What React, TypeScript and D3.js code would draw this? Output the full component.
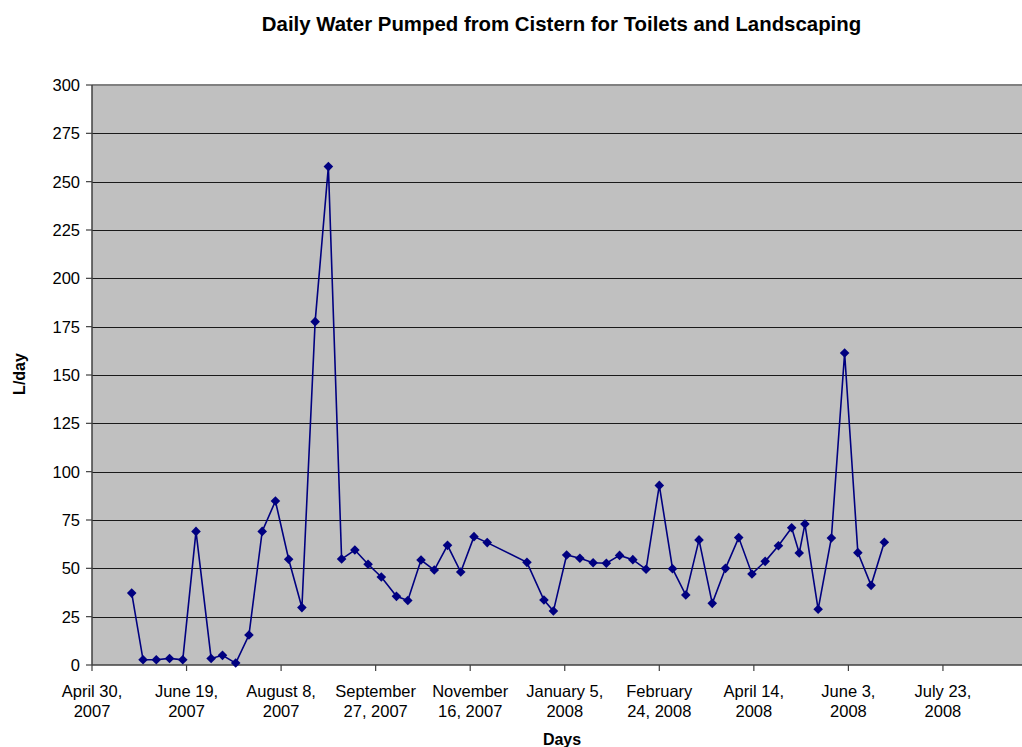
import React from "react";
import * as d3 from "d3";

const dates: string[] = [
  "2007-05-21", "2007-05-27", "2007-06-03", "2007-06-10", "2007-06-17", "2007-06-24",
  "2007-07-02", "2007-07-08", "2007-07-15", "2007-07-22", "2007-07-29", "2007-08-05",
  "2007-08-12", "2007-08-19", "2007-08-26", "2007-09-02", "2007-09-09", "2007-09-16",
  "2007-09-23", "2007-09-30", "2007-10-08", "2007-10-14", "2007-10-21", "2007-10-28",
  "2007-11-04", "2007-11-11", "2007-11-18", "2007-11-25", "2007-12-16", "2007-12-25",
  "2007-12-30", "2008-01-06", "2008-01-13", "2008-01-20", "2008-01-27", "2008-02-03",
  "2008-02-10", "2008-02-17", "2008-02-24", "2008-03-02", "2008-03-09", "2008-03-16",
  "2008-03-23", "2008-03-30", "2008-04-06", "2008-04-13", "2008-04-20", "2008-04-27",
  "2008-05-04", "2008-05-08", "2008-05-11", "2008-05-18", "2008-05-25", "2008-06-01",
  "2008-06-08", "2008-06-15", "2008-06-22",
];

const litresPerDay: number[] = [
  37.2, 2.7, 2.7, 3.4, 2.7, 69.1,
  3.4, 5.0, 1.0, 15.5, 69.1, 84.8,
  54.7, 29.7, 177.6, 257.8, 54.8, 59.5,
  52.1, 45.5, 35.5, 33.4, 54.3, 49.1,
  61.9, 48.1, 66.4, 63.3, 53.1, 33.6,
  27.9, 56.9, 55.2, 52.9, 52.6, 56.7,
  54.5, 49.5, 92.9, 49.8, 36.2, 64.7,
  31.9, 50.0, 65.9, 47.1, 53.6, 61.7,
  71.0, 57.9, 72.9, 28.8, 65.7, 161.4,
  58.1, 41.2, 63.5,
];

const xTickDates: string[] = [
  "2007-04-30", "2007-06-19", "2007-08-08", "2007-09-27", "2007-11-16",
  "2008-01-05", "2008-02-24", "2008-04-14", "2008-06-03", "2008-07-23",
];
const xTickLabels: string[][] = [
  ["April 30,", "2007"], ["June 19,", "2007"], ["August 8,", "2007"],
  ["September", "27, 2007"], ["November", "16, 2007"], ["January 5,", "2008"],
  ["February", "24, 2008"], ["April 14,", "2008"], ["June 3,", "2008"],
  ["July 23,", "2008"],
];
const yTicks: number[] = [0, 25, 50, 75, 100, 125, 150, 175, 200, 225, 250, 275, 300];

const xDomain: string[] = ["2007-04-30", "2008-09-11"];

const FONT = "'Liberation Sans', Arial, sans-serif";

export default function App() {
  const W = 1022, H = 747;
  const left = 92, top = 85, bottom = 665;
  const pxPerDay = 1.891;
  const parse = (s: string) => new Date(s + "T00:00:00Z");
  const d0 = parse(xDomain[0]);
  const d1 = parse(xDomain[1]);
  const days = (d1.getTime() - d0.getTime()) / 86400000;
  const x = d3.scaleUtc().domain([d0, d1]).range([left, left + days * pxPerDay]);
  const y = d3.scaleLinear().domain([0, 300]).range([bottom, top]);
  const right = W + 5;

  const pts = dates.map((d, i) => ({ x: x(parse(d)), y: y(litresPerDay[i]) }));
  const line = d3.line<{ x: number; y: number }>().x((p) => p.x).y((p) => p.y);
  const r = 4.8;

  return (
    <svg width={W} height={H} style={{ position: "absolute", left: 0, top: 0, background: "#fff" }} fontFamily={FONT}>
      <rect x={left} y={top} width={right - left} height={bottom - top} fill="#C0C0C0" />
      {yTicks.filter((t) => t > 0 && t < 300).map((t) => (
        <line key={t} x1={left} x2={right} y1={Math.round(y(t)) + 0.5} y2={Math.round(y(t)) + 0.5} stroke="#1a1a1a" strokeWidth={1} />
      ))}
      <line x1={left} x2={right} y1={top} y2={top} stroke="#808080" strokeWidth={2} />
      <line x1={left} x2={right} y1={bottom} y2={bottom} stroke="#404040" strokeWidth={1.5} />
      <line x1={left} x2={left} y1={top} y2={bottom} stroke="#404040" strokeWidth={1.5} />
      {yTicks.map((t) => (
        <g key={t}>
          <line x1={left - 6} x2={left} y1={y(t)} y2={y(t)} stroke="#404040" strokeWidth={1.2} />
          <text x={80} y={y(t) + 6} textAnchor="end" fontSize={16.5} fill="#000">{t}</text>
        </g>
      ))}
      {xTickDates.map((d, i) => {
        const xx = x(parse(d));
        return (
          <g key={d}>
            <line x1={xx} x2={xx} y1={bottom} y2={bottom + 6} stroke="#404040" strokeWidth={1.2} />
            <text x={xx} y={697} textAnchor="middle" fontSize={16.5} fill="#000">{xTickLabels[i][0]}</text>
            <text x={xx} y={717} textAnchor="middle" fontSize={16.5} fill="#000">{xTickLabels[i][1]}</text>
          </g>
        );
      })}
      <path d={line(pts) || ""} fill="none" stroke="#000080" strokeWidth={1.6} />
      {pts.map((p, i) => (
        <path key={i} d={`M${p.x},${p.y - r}L${p.x + r},${p.y}L${p.x},${p.y + r}L${p.x - r},${p.y}Z`} fill="#000080" />
      ))}
      <text x={561.5} y={31} textAnchor="middle" fontSize={20.4} fontWeight="bold" fill="#000">
        Daily Water Pumped from Cistern for Toilets and Landscaping
      </text>
      <text x={562} y={745} textAnchor="middle" fontSize={16} fontWeight="bold" fill="#000">Days</text>
      <text transform={`translate(25,374) rotate(-90)`} textAnchor="middle" fontSize={16} fontWeight="bold" fill="#000">L/day</text>
    </svg>
  );
}
